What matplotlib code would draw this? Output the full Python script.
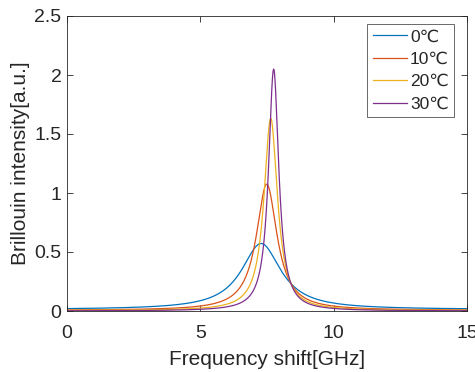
import numpy as np
import matplotlib
matplotlib.use("Agg")
import matplotlib.pyplot as plt

plt.rcParams['font.family'] = ['Liberation Sans', 'DejaVu Sans']

# Lorentzian Brillouin spectra parameters
labels = ['0℃', '10℃', '20℃', '30℃']
center_ghz = [7.28, 7.49, 7.64, 7.75]
peak_height = [0.56, 1.07, 1.63, 2.05]
hwhm_ghz = [0.90, 0.473, 0.307, 0.232]
baseline = [0.012, 0.005, 0.003, 0.0]
colors = ['#0072BD', '#D95319', '#EDB120', '#7E2F8E']

x_ticks = [0, 5, 10, 15]
y_ticks = [0, 0.5, 1, 1.5, 2, 2.5]
y_tick_labels = ['0', '0.5', '1', '1.5', '2', '2.5']

freq = np.linspace(0, 15, 3001)

fig = plt.figure(figsize=(4.75, 3.72), dpi=100)
ax = fig.add_axes([67/475, 1-311/372, 400/475, 295/372])

for lab, c, h, g, b, col in zip(labels, center_ghz, peak_height, hwhm_ghz, baseline, colors):
    y = h / (1 + ((freq - c) / g) ** 2) + b
    ax.plot(freq, y, color=col, lw=0.9, label=lab)

ax.set_xlim(0, 15)
ax.set_ylim(0, 2.5)
ax.set_xticks(x_ticks)
ax.set_yticks(y_ticks)
ax.set_yticklabels(y_tick_labels)
ax.tick_params(direction='in', top=True, right=True, length=4, width=0.6,
               colors='#262626', labelsize=14)
ax.tick_params(axis='x', pad=10)
ax.tick_params(axis='y', pad=4)
for s in ax.spines.values():
    s.set_color('#262626')
    s.set_linewidth(0.6)
ax.set_xlabel('Frequency shift[GHz]', fontsize=15, color='#262626', labelpad=6)
ax.set_ylabel('Brillouin intensity[a.u.]', fontsize=15, color='#262626', labelpad=3)

leg = ax.legend(loc='upper right', fontsize=12.5, frameon=True, fancybox=False,
                edgecolor='#262626', handlelength=2.0, handletextpad=0.15,
                borderpad=0.3, labelspacing=0.42, borderaxespad=0)
leg.get_frame().set_linewidth(0.6)
for t in leg.get_texts():
    t.set_color('#262626')
leg.set_bbox_to_anchor(((454-67)/400, 1 - (24-16)/295), transform=ax.transAxes)

fig.savefig('out.png', dpi=100)
